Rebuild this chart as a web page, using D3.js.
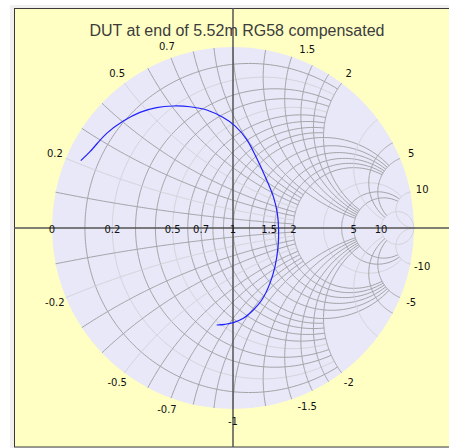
<!DOCTYPE html>
<html>
<head>
<meta charset="utf-8">
<script src="https://cdn.jsdelivr.net/npm/d3@7"></script>
<style>
  body { margin: 0; background: #ffffff; }
  svg { display: block; }
</style>
</head>
<body>
<div id="chart"></div>
<script>
// ---- data ----
const title = 'DUT at end of 5.52m RG58 compensated'
const gammaRe = [-0.841, -0.790, -0.698, -0.606, -0.514, -0.422, -0.330, -0.238, -0.145, -0.054,
  0.011, 0.076, 0.131, 0.186, 0.223, 0.245, 0.252, 0.249, 0.232, 0.204,
  0.159, 0.112, 0.057, 0.002, -0.044, -0.090]
const gammaIm = [0.372, 0.422, 0.523, 0.591, 0.639, 0.665, 0.674, 0.670, 0.652, 0.610,
  0.564, 0.488, 0.385, 0.265, 0.173, 0.081, -0.011, -0.103, -0.214, -0.306,
  -0.398, -0.453, -0.499, -0.523, -0.532, -0.536]
const gridR = [0.1, 0.2, 0.3, 0.4, 0.5, 0.6, 0.7, 0.8, 0.9, 1, 1.2, 1.4, 1.6, 1.8, 2, 3, 4, 5, 10]
const gridX = [0.1, 0.2, 0.3, 0.4, 0.5, 0.6, 0.7, 0.8, 0.9, 1, 1.2, 1.4, 1.6, 1.8, 2, 3, 4, 5, 10]
const lightLines = [0.2, 0.5, 1.5, 3, 10]
const rLabels = ['0', '0.2', '0.5', '0.7', '1', '1.5', '2', '5', '10']
const xLabels = ['0.2', '0.5', '0.7', '1.5', '2', '5', '10',
  '-0.2', '-0.5', '-0.7', '-1', '-1.5', '-2', '-5', '-10']

// ---- layout ----
const W = 449, H = 448
const cx = 233, cy = 228, R = 181
const frame = { x: 14, y: 8 }

const xScale = d3.scaleLinear().domain([-1, 1]).range([cx - R, cx + R])
const yScale = d3.scaleLinear().domain([-1, 1]).range([cy + R, cy - R])

// z = r + jx  ->  gamma = (z-1)/(z+1)
function toGamma(r, x) {
  const den = (r + 1) * (r + 1) + x * x
  return [(r * r + x * x - 1) / den, (2 * x) / den]
}

function limitFor(v) {
  if (v < 1) return 2
  if (v <= 2) return 5
  if (v <= 5) return 10
  return Infinity
}

const svg = d3.select('#chart').append('svg')
  .attr('width', W).attr('height', H)

svg.append('rect')
  .attr('x', 10).attr('y', 5).attr('width', W - 10).attr('height', H - 5)
  .attr('fill', '#f0f0f0')

svg.append('rect')
  .attr('x', frame.x + 0.5).attr('y', frame.y + 0.5)
  .attr('width', W + 10).attr('height', H - frame.y - 1.5)
  .attr('fill', '#ffffc4')
  .attr('stroke', '#3a3a3a')

svg.append('circle')
  .attr('cx', xScale(0)).attr('cy', yScale(0)).attr('r', xScale(1) - xScale(0))
  .attr('fill', '#e8e8f8')

const line = d3.line().x(d => xScale(d[0])).y(d => yScale(d[1]))
const gridG = svg.append('g').attr('fill', 'none').attr('stroke-width', 1)

// constant resistance circles
gridR.forEach(r => {
  const lim = Math.atan(limitFor(r))
  const pts = d3.range(-lim, lim + 1e-9, lim / 100).map(t => toGamma(r, Math.tan(Math.max(-1.5707, Math.min(1.5707, t)))))
  gridG.append('path')
    .attr('d', line(pts))
    .attr('stroke', lightLines.includes(r) ? '#d4d4dc' : '#a4a4a8')
})

// constant reactance arcs
gridX.forEach(x => {
  const lim = Math.atan(limitFor(x))
  ;[x, -x].forEach(xv => {
    const pts = d3.range(0, lim + 1e-9, lim / 100).map(s => toGamma(Math.tan(Math.min(1.5707, s)), xv))
    gridG.append('path')
      .attr('d', line(pts))
      .attr('stroke', lightLines.includes(x) ? '#d4d4dc' : '#a4a4a8')
  })
})

// cartesian axes through the centre
svg.append('line')
  .attr('x1', frame.x).attr('x2', W).attr('y1', yScale(0)).attr('y2', yScale(0))
  .attr('stroke', '#555').attr('stroke-width', 1.5)
svg.append('line')
  .attr('x1', xScale(0)).attr('x2', xScale(0)).attr('y1', frame.y).attr('y2', H - 1)
  .attr('stroke', '#555').attr('stroke-width', 1.5)

// trace
svg.append('path')
  .datum(gammaRe.map((v, i) => [v, gammaIm[i]]))
  .attr('fill', 'none')
  .attr('stroke', '#2020ff')
  .attr('stroke-width', 1.2)
  .attr('d', d3.line().x(d => xScale(d[0])).y(d => yScale(d[1])).curve(d3.curveCatmullRom))

// labels
const labG = svg.append('g')
  .attr('font-family', '"DejaVu Sans", sans-serif')
  .attr('font-size', '10px')
  .attr('fill', '#111')
  .attr('text-anchor', 'middle')
  .attr('dominant-baseline', 'central')

rLabels.forEach(t => {
  const g = toGamma(+t, 0)
  labG.append('text')
    .attr('x', xScale(g[0])).attr('y', yScale(0) + 1)
    .text(t)
})

xLabels.forEach(t => {
  const g = toGamma(0, +t)
  const px = xScale(g[0]), py = yScale(g[1])
  const dx = px - xScale(0), dy = py - yScale(0)
  const len = Math.hypot(dx, dy)
  labG.append('text')
    .attr('x', px + dx / len * 12).attr('y', py + dy / len * 12)
    .text(t)
})

svg.append('text')
  .attr('x', 237).attr('y', 36)
  .attr('text-anchor', 'middle')
  .attr('font-family', '"Liberation Sans", Arial, sans-serif')
  .attr('font-size', '16px')
  .attr('fill', '#3c3c3c')
  .text(title)
</script>
</body>
</html>
